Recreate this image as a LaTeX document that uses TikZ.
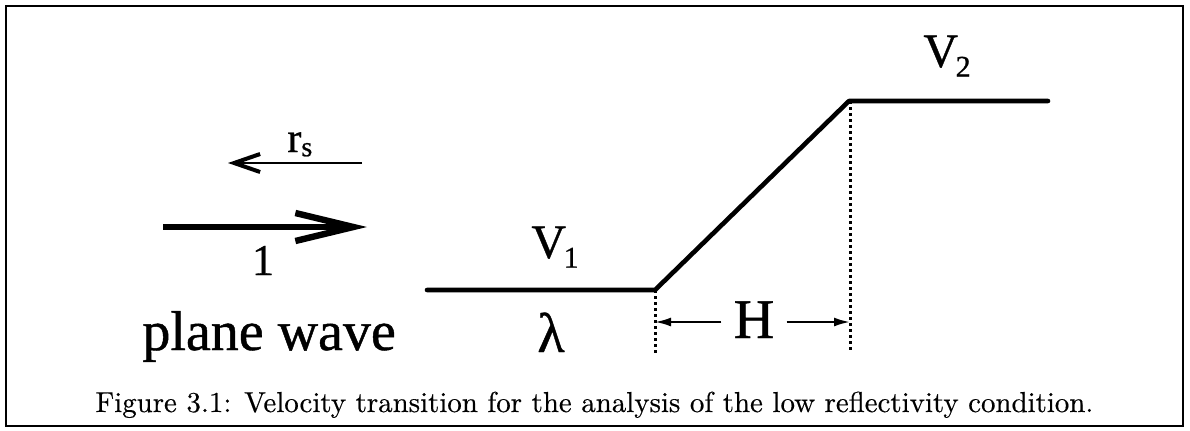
\documentclass[tikz,border=0pt]{standalone}
\usepackage{fontspec}
\usepackage{graphicx}
\newfontfamily\tnr[FakeBold=0.8]{Liberation Serif}
\newfontfamily\capfont[FakeBold=0.4]{Latin Modern Roman}
\usetikzlibrary{arrows.meta}
\begin{document}
\begin{tikzpicture}[x=0.5pt,y=-0.5pt,
  prof/.style={line width=2.3pt, line join=round, line cap=round},
  guide/.style={line width=1.5pt, dash pattern=on 1.5pt off 1.5pt},
  frame/.style={line width=1.1pt},
  bigtxt/.style={font=\tnr\fontsize{28}{30}\selectfont, inner sep=0pt},
  vtxt/.style={font=\tnr\fontsize{24}{26}\selectfont, inner sep=0pt},
  midtxt/.style={font=\tnr\fontsize{22}{24}\selectfont, inner sep=0pt},
  rtxt/.style={font=\tnr\fontsize{21}{23}\selectfont, inner sep=0pt},
  incident/.style={line width=3pt, -{Straight Barb[length=29pt,width=14pt,line width=3.2pt]}},
  reflected/.style={line width=1.3pt, -{Straight Barb[length=13pt,width=9pt,line width=2pt]}},
  dimarrow/.style={line width=1.1pt, -{Latex[length=8pt,width=4.5pt]}},
]
\useasboundingbox (0,0) rectangle (1190,430);
% frame
\draw[frame] (6,6) rectangle (1183,426);

% velocity profile
\coordinate (a)  at (427,290);
\coordinate (k1) at (655,290);
\coordinate (k2) at (849,101);
\coordinate (b)  at (1048,101);
\draw[prof] (a) -- (k1) -- (k2) -- (b);

% dotted guides
\coordinate (d1) at (655,353);
\coordinate (d2) at (850,353);
\coordinate (k2b) at (850,101);
\draw[guide] (k1) -- (d1);
\draw[guide] (k2b) -- (d2);

% H dimension
\coordinate (h1) at (655,322);
\coordinate (h2) at (850,322);
\node[bigtxt, anchor=base, inner xsep=6pt] (H) at (754,338) {H};
\draw[dimarrow] (H.west |- h1) -- (h1);
\draw[dimarrow] (H.east |- h2) -- (h2);

% labels
\node[vtxt, anchor=base west] (v1) at (531,258) {V\kern-0.05em\raisebox{-0.2em}{\fontsize{15}{15}\selectfont 1}};
\node[vtxt, anchor=base west] (v2) at (923,67) {V\kern-0.05em\raisebox{-0.2em}{\fontsize{15}{15}\selectfont 2}};
\node[bigtxt, anchor=base] (lam) at (551,352) {λ};

% waves
\coordinate (r0) at (362,163);
\coordinate (r1) at (228,163);
\draw[reflected] (r0) -- (r1);
\node[rtxt, anchor=base west] (rs) at (287,152) {r\raisebox{-0.1em}{\fontsize{14}{14}\selectfont s}};

\coordinate (i0) at (163,227);
\coordinate (i1) at (367,227);
\draw[incident] (i0) -- (i1);
\node[midtxt, anchor=base] (one) at (263,275) {1};

\node[bigtxt, anchor=base west] (pw) at (142,350) {plane wave};

% caption
\node[anchor=base west, inner sep=0pt, font=\capfont] (cap) at (95,412) {\resizebox{499pt}{!}{Figure 3.1: Velocity transition for the analysis of the low reflectivity condition.}};
\end{tikzpicture}
\end{document}
